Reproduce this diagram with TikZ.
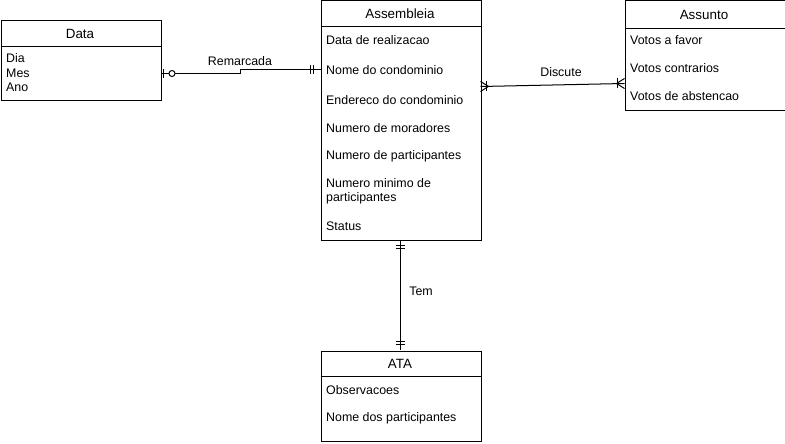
\documentclass[tikz,border=0pt]{standalone}
\usepackage{fontspec}
\setmainfont{Liberation Sans}
\usetikzlibrary{calc}
\begin{document}
\begin{tikzpicture}[x=1pt,y=-1pt,
  ent/.style={draw, line width=1pt, anchor=north west, minimum width=160pt, inner sep=0pt},
  hdr/.style={font=\fontsize{13.4}{15}\selectfont, inner sep=0pt},
  attr/.style={anchor=west, font=\fontsize{12.4}{14}\selectfont, inner sep=0pt, align=left},
  lbl/.style={font=\fontsize{12.4}{14}\selectfont, inner sep=0pt},
  conn/.style={line width=1pt},
  tick/.style={line width=1pt}
]
\useasboundingbox (0,0) rectangle (785,444);
% entities
\node[ent, minimum height=80pt] (data) at (0.5,20) {};
\node[ent, minimum height=239pt] (asm) at (320.5,0.5) {};
\node[ent, minimum height=109pt] (ass) at (624.5,0.5) {};
\node[ent, minimum height=90pt] (ata) at (320.5,350.5) {};
% header separators
\draw[line width=1pt] (0.5,46.5) -- (160.5,46.5);
\draw[line width=1pt] (320.5,26.5) -- (480.5,26.5);
\draw[line width=1pt] (624.5,28.5) -- (784.5,28.5);
\draw[line width=1pt] (320.5,376.5) -- (480.5,376.5);
% headers
\node[hdr] (dataT) at (80,34) {Data};
\node[hdr] (asmT) at (400,14) {Assembleia};
\node[hdr] (assT) at (704,15) {Assunto};
\node[hdr] (ataT) at (400,364) {ATA};
% Data attributes
\node[attr] (d1) at (6,58) {Dia};
\node[attr] (d2) at (6,73) {Mes};
\node[attr] (d3) at (6,87) {Ano};
% Assembleia attributes
\node[attr] (a1) at (326,40) {Data de realizacao};
\node[attr] (a2) at (326,70) {Nome do condominio};
\node[attr] (a3) at (326,100) {Endereco do condominio};
\node[attr] (a4) at (326,128) {Numero de moradores};
\node[attr] (a5) at (326,156) {Numero de participantes};
\node[attr] (a6) at (326,191) {Numero minimo de\\participantes};
\node[attr] (a7) at (326,226) {Status};
% Assunto attributes
\node[attr] (s1) at (630,40) {Votos a favor};
\node[attr] (s2) at (630,68) {Votos contrarios};
\node[attr] (s3) at (630,96) {Votos de abstencao};
% ATA attributes
\node[attr] (t1) at (326,390) {Observacoes};
\node[attr] (t2) at (326,418) {Nome dos participantes};
% connector endpoints
\coordinate (rA) at (160.5,73.5);
\coordinate (rB) at (320.5,69.5);
\coordinate (dA) at (480.5,86.5);
\coordinate (dB) at (624.5,83.5);
\coordinate (tA) at (400.5,240);
\coordinate (tB) at (400.5,350);
% Remarcada
\draw[conn] (rA) -- (240.5,73.5) -- (240.5,69.5) -- (rB);
\draw[tick] (163.5,69) -- (163.5,78);
\draw[tick, fill=white] (172,73.5) circle (3pt);
\draw[tick] (310.5,65) -- (310.5,74);
\draw[tick] (313.5,65) -- (313.5,74);
\node[lbl] (remL) at (240,61) {Remarcada};
% Discute
\draw[conn] (dA) -- (dB);
\draw[tick] (480.5,81.5) -- (488.5,86.4) -- (480.5,91.5);
\draw[tick] (486.5,81.5) -- (486.5,91.5);
\draw[tick] (624.5,78.5) -- (616.5,83.5) -- (624.5,88.5);
\draw[tick] (617.5,78.5) -- (617.5,88.5);
\node[lbl] (disL) at (561,72) {Discute};
% Tem
\draw[conn] (tA) -- (tB);
\draw[tick] (396,245.5) -- (405,245.5);
\draw[tick] (396,248.5) -- (405,248.5);
\draw[tick] (396,341.5) -- (405,341.5);
\draw[tick] (396,344.5) -- (405,344.5);
\node[lbl] (temL) at (421,291) {Tem};
\end{tikzpicture}
\end{document}
